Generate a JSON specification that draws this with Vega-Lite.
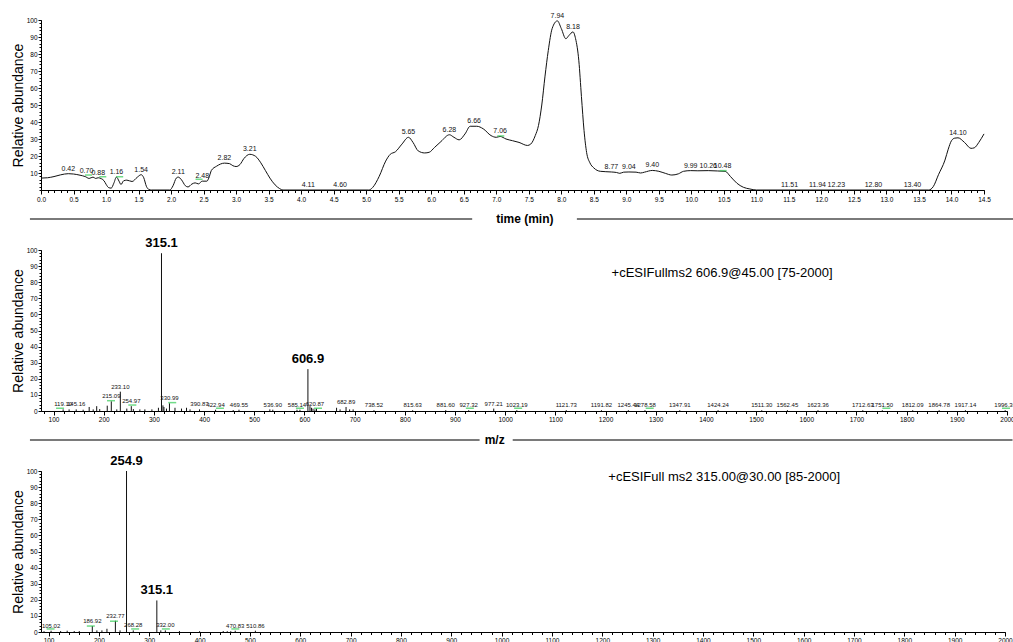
{
"$schema": "https://vega.github.io/schema/vega-lite/v6.json",
"background": "white",
"padding": {"top": 11, "left": 11, "right": 0, "bottom": 0},
"config": {"view": {"stroke": null}, "font": "Liberation Sans"},
"spacing": 60,
"bounds": "flush",
"datasets": {
"one": [{"k": 1}],
"chrom": [
{"t":0,"v":7},{"t":0.1,"v":7.2},{"t":0.2,"v":7.9},{"t":0.3,"v":8.9},{"t":0.42,"v":9.6},{"t":0.5,"v":9.4},{"t":0.6,"v":8.7},{"t":0.68,"v":7.9},{"t":0.74,"v":6.8},{"t":0.8,"v":7.6},{"t":0.84,"v":6.8},{"t":0.88,"v":7.2},{"t":0.93,"v":6.6},{"t":0.97,"v":5.4},{"t":1.0,"v":3.4},{"t":1.04,"v":1.4},{"t":1.08,"v":1.1},{"t":1.12,"v":4},{"t":1.16,"v":7.6},{"t":1.2,"v":5.2},{"t":1.23,"v":3.2},{"t":1.27,"v":5.4},{"t":1.32,"v":5.8},{"t":1.4,"v":5},{"t":1.48,"v":7.5},{"t":1.54,"v":9},{"t":1.58,"v":7.2},{"t":1.62,"v":2.2},{"t":1.66,"v":0.3},{"t":1.7,"v":0},{"t":1.98,"v":0},{"t":2.03,"v":2.5},{"t":2.08,"v":7},{"t":2.11,"v":7.6},{"t":2.16,"v":6},{"t":2.22,"v":2.5},{"t":2.26,"v":1.8},{"t":2.32,"v":3.5},{"t":2.37,"v":4.2},{"t":2.42,"v":3.6},{"t":2.48,"v":5.2},{"t":2.55,"v":5.2},{"t":2.58,"v":7},{"t":2.62,"v":11.5},{"t":2.7,"v":14},{"t":2.82,"v":15.8},{"t":2.9,"v":15.5},{"t":2.95,"v":14.3},{"t":3.0,"v":13.8},{"t":3.06,"v":15},{"t":3.12,"v":18.5},{"t":3.21,"v":21},{"t":3.3,"v":19.8},{"t":3.38,"v":16},{"t":3.45,"v":11.5},{"t":3.52,"v":7},{"t":3.6,"v":3},{"t":3.67,"v":0.8},{"t":3.72,"v":0},{"t":5.04,"v":0},{"t":5.1,"v":1.5},{"t":5.2,"v":8},{"t":5.3,"v":17},{"t":5.37,"v":21},{"t":5.45,"v":22.5},{"t":5.55,"v":27},{"t":5.65,"v":31},{"t":5.72,"v":28},{"t":5.8,"v":23},{"t":5.9,"v":21.8},{"t":5.97,"v":22.2},{"t":6.05,"v":25},{"t":6.15,"v":28.5},{"t":6.28,"v":32.5},{"t":6.35,"v":31},{"t":6.43,"v":29.5},{"t":6.52,"v":33},{"t":6.6,"v":37.5},{"t":6.7,"v":37.5},{"t":6.8,"v":36},{"t":6.92,"v":32},{"t":7.0,"v":31},{"t":7.06,"v":31.5},{"t":7.15,"v":30},{"t":7.25,"v":29},{"t":7.35,"v":28},{"t":7.48,"v":26.2},{"t":7.53,"v":27},{"t":7.6,"v":32},{"t":7.65,"v":38},{"t":7.7,"v":50},{"t":7.75,"v":67},{"t":7.8,"v":82},{"t":7.86,"v":95},{"t":7.94,"v":99.5},{"t":8.0,"v":95},{"t":8.07,"v":89},{"t":8.12,"v":91},{"t":8.18,"v":93},{"t":8.22,"v":89},{"t":8.27,"v":76},{"t":8.31,"v":55},{"t":8.35,"v":35},{"t":8.39,"v":22},{"t":8.44,"v":16},{"t":8.5,"v":13},{"t":8.6,"v":11},{"t":8.77,"v":10.6},{"t":8.85,"v":10.3},{"t":8.9,"v":9.8},{"t":8.96,"v":10.5},{"t":9.04,"v":10.6},{"t":9.15,"v":10.5},{"t":9.22,"v":10},{"t":9.28,"v":10.5},{"t":9.4,"v":11.5},{"t":9.5,"v":11},{"t":9.6,"v":9.8},{"t":9.7,"v":8.8},{"t":9.8,"v":9.5},{"t":9.88,"v":11},{"t":9.99,"v":11.4},{"t":10.1,"v":11.3},{"t":10.26,"v":11.4},{"t":10.4,"v":11.2},{"t":10.52,"v":11},{"t":10.6,"v":8},{"t":10.7,"v":4},{"t":10.8,"v":1.6},{"t":10.9,"v":0.6},{"t":11.0,"v":0},{"t":13.65,"v":0},{"t":13.72,"v":2},{"t":13.8,"v":9},{"t":13.9,"v":17.6},{"t":13.95,"v":24},{"t":14.0,"v":29},{"t":14.05,"v":30.5},{"t":14.1,"v":30.7},{"t":14.2,"v":28},{"t":14.3,"v":24.5},{"t":14.35,"v":24.8},{"t":14.42,"v":28},{"t":14.5,"v":33}
],
"chromLabels": [
{"t":0.42,"v":9.6,"label":"0.42"},{"t":0.70,"v":8,"label":"0.70"},{"t":0.88,"v":7.3,"label":"0.88"},{"t":1.16,"v":7.6,"label":"1.16"},{"t":1.54,"v":9,"label":"1.54"},{"t":2.11,"v":7.6,"label":"2.11"},{"t":2.48,"v":5.2,"label":"2.48"},{"t":2.82,"v":15.8,"label":"2.82"},{"t":3.21,"v":21,"label":"3.21"},{"t":4.11,"v":0,"label":"4.11"},{"t":4.60,"v":0,"label":"4.60"},{"t":5.65,"v":31,"label":"5.65"},{"t":6.28,"v":32.5,"label":"6.28"},{"t":6.66,"v":37.5,"label":"6.66"},{"t":7.06,"v":31.5,"label":"7.06"},{"t":7.94,"v":99.5,"label":"7.94"},{"t":8.18,"v":93,"label":"8.18"},{"t":8.77,"v":10.6,"label":"8.77"},{"t":9.04,"v":10.6,"label":"9.04"},{"t":9.40,"v":11.5,"label":"9.40"},{"t":9.99,"v":11.4,"label":"9.99"},{"t":10.26,"v":11.4,"label":"10.26"},{"t":10.48,"v":11,"label":"10.48"},{"t":11.51,"v":0,"label":"11.51"},{"t":11.94,"v":0,"label":"11.94"},{"t":12.23,"v":0,"label":"12.23"},{"t":12.80,"v":0,"label":"12.80"},{"t":13.40,"v":0,"label":"13.40"},{"t":14.10,"v":30.7,"label":"14.10"}
],
"chromGreen": [{"t":0.73,"v":8.8},{"t":0.95,"v":7.8},{"t":1.21,"v":7.8},{"t":2.43,"v":6.3},{"t":7.07,"v":31.8},{"t":10.49,"v":11.4}],
"ms1Peaks": [
{"mz":119.1,"v":1},{"mz":131,"v":1},{"mz":145.16,"v":1},{"mz":159,"v":0.8},{"mz":171,"v":2.5},{"mz":179,"v":1},{"mz":186,"v":3},{"mz":192,"v":1.2},{"mz":207,"v":3.3},{"mz":215.09,"v":6},{"mz":226,"v":1},{"mz":233.1,"v":12},{"mz":246,"v":1.5},{"mz":254.97,"v":3},{"mz":259,"v":1.2},{"mz":272,"v":1},{"mz":282,"v":1},{"mz":296,"v":1},{"mz":309,"v":2},{"mz":315.1,"v":98},{"mz":318,"v":3.5},{"mz":320,"v":2.5},{"mz":325,"v":1.5},{"mz":330.99,"v":4.8},{"mz":342,"v":2},{"mz":355,"v":1.5},{"mz":365,"v":2},{"mz":372,"v":1},{"mz":390.87,"v":1},{"mz":422.94,"v":0.8},{"mz":458,"v":0.6},{"mz":469.55,"v":0.8},{"mz":531,"v":1},{"mz":536.9,"v":0.8},{"mz":585.14,"v":0.8},{"mz":591,"v":0.8},{"mz":606.9,"v":26},{"mz":611,"v":3},{"mz":614,"v":2},{"mz":617,"v":1.5},{"mz":620.87,"v":1},{"mz":624,"v":1.5},{"mz":664,"v":2},{"mz":671,"v":1},{"mz":682.89,"v":2.5},{"mz":690,"v":1},{"mz":697,"v":1},{"mz":738.52,"v":0.5},{"mz":815.63,"v":0.5},{"mz":881.6,"v":0.5},{"mz":927.32,"v":0.5},{"mz":977.21,"v":1.5},{"mz":1023.19,"v":0.5},{"mz":1121.73,"v":0.5},{"mz":1191.82,"v":0.5},{"mz":1245.44,"v":0.5},{"mz":1278.58,"v":0.5},{"mz":1347.91,"v":0.5},{"mz":1424.24,"v":0.5},{"mz":1511.3,"v":0.5},{"mz":1562.45,"v":0.5},{"mz":1623.36,"v":0.5},{"mz":1712.63,"v":0.5},{"mz":1751.5,"v":0.5},{"mz":1812.09,"v":0.5},{"mz":1864.78,"v":0.5},{"mz":1917.14,"v":0.5},{"mz":1996.36,"v":0.5}
],
"ms1Labels": [
{"mz":119.1,"v":1,"label":"119.10"},{"mz":145.16,"v":1,"label":"145.16"},{"mz":215.09,"v":6,"label":"215.09"},{"mz":233.1,"v":12,"label":"233.10"},{"mz":254.97,"v":3,"label":"254.97"},{"mz":330.99,"v":4.8,"label":"330.99"},{"mz":390.87,"v":1,"label":"390.87"},{"mz":422.94,"v":0.8,"label":"422.94"},{"mz":469.55,"v":0.8,"label":"469.55"},{"mz":536.9,"v":0.8,"label":"536.90"},{"mz":585.14,"v":0.8,"label":"585.14"},{"mz":620.87,"v":1,"label":"620.87"},{"mz":682.89,"v":2.5,"label":"682.89"},{"mz":738.52,"v":0.5,"label":"738.52"},{"mz":815.63,"v":0.5,"label":"815.63"},{"mz":881.6,"v":0.5,"label":"881.60"},{"mz":927.32,"v":0.5,"label":"927.32"},{"mz":977.21,"v":1.5,"label":"977.21"},{"mz":1023.19,"v":0.5,"label":"1023.19"},{"mz":1121.73,"v":0.5,"label":"1121.73"},{"mz":1191.82,"v":0.5,"label":"1191.82"},{"mz":1245.44,"v":0.5,"label":"1245.44"},{"mz":1278.58,"v":0.5,"label":"1278.58"},{"mz":1347.91,"v":0.5,"label":"1347.91"},{"mz":1424.24,"v":0.5,"label":"1424.24"},{"mz":1511.3,"v":0.5,"label":"1511.30"},{"mz":1562.45,"v":0.5,"label":"1562.45"},{"mz":1623.36,"v":0.5,"label":"1623.36"},{"mz":1712.63,"v":0.5,"label":"1712.63"},{"mz":1751.5,"v":0.5,"label":"1751.50"},{"mz":1812.09,"v":0.5,"label":"1812.09"},{"mz":1864.78,"v":0.5,"label":"1864.78"},{"mz":1917.14,"v":0.5,"label":"1917.14"},{"mz":1996.36,"v":0.5,"label":"1996.36"}
],
"ms1Big": [{"mz":315.1,"v":98,"label":"315.1"},{"mz":606.9,"v":26,"label":"606.9"}],
"ms1Green": [{"mz":113,"v":1.7},{"mz":214.5,"v":6.4},{"mz":257,"v":3.7},{"mz":336.5,"v":5.2},{"mz":431.6,"v":1.7},{"mz":591,"v":1.7},{"mz":627,"v":1.7},{"mz":929.6,"v":1.7},{"mz":1025.8,"v":1.7},{"mz":1288,"v":1.7},{"mz":1759.6,"v":1.7},{"mz":1998,"v":1.7}],
"ms2Peaks": [
{"mz":91,"v":0.5},{"mz":105.02,"v":0.8},{"mz":124,"v":0.6},{"mz":137,"v":0.8},{"mz":151,"v":0.6},{"mz":161,"v":0.6},{"mz":186.92,"v":3.7},{"mz":196,"v":1},{"mz":206,"v":1},{"mz":216,"v":2},{"mz":232.77,"v":7},{"mz":242,"v":1},{"mz":254.9,"v":100},{"mz":268.28,"v":1},{"mz":315.1,"v":19.6},{"mz":323,"v":1},{"mz":332.0,"v":1},{"mz":360,"v":0.6},{"mz":400,"v":0.5},{"mz":447,"v":0.6},{"mz":455,"v":0.5},{"mz":462,"v":0.5},{"mz":470.83,"v":0.8},{"mz":510.86,"v":0.8}
],
"ms2Labels": [
{"mz":105.02,"v":0.8,"label":"105.02"},{"mz":186.92,"v":3.7,"label":"186.92"},{"mz":232.77,"v":7,"label":"232.77"},{"mz":268.28,"v":1,"label":"268.28"},{"mz":332.0,"v":1,"label":"332.00"},{"mz":470.83,"v":0.8,"label":"470.83"},{"mz":510.86,"v":0.8,"label":"510.86"}
],
"ms2Big": [{"mz":254.9,"v":100,"label":"254.9"},{"mz":315.1,"v":19.6,"label":"315.1"}],
"ms2Green": [{"mz":104,"v":1.9},{"mz":184,"v":3.7},{"mz":230,"v":6.7},{"mz":272,"v":1.9},{"mz":333,"v":1.9},{"mz":471,"v":1.9}],
"notes": [{"panel":"ms1","text":"+cESIFullms2 606.9@45.00 [75-2000]"},{"panel":"ms2","text":"+cESIFull ms2 315.00@30.00 [85-2000]"}]
},
"vconcat": [
{
"width": 943, "height": 170,
"resolve": {"axis": {"x": "independent", "y": "independent"}},
"layer": [
{"data": {"name": "chrom"}, "mark": {"type": "line", "color": "#111", "strokeWidth": 1, "interpolate": "monotone"},
 "encoding": {
  "x": {"field": "t", "type": "quantitative", "scale": {"domain": [0, 14.5], "nice": false, "zero": false},
   "axis": {"orient": "bottom", "values": [0,0.5,1,1.5,2,2.5,3,3.5,4,4.5,5,5.5,6,6.5,7,7.5,8,8.5,9,9.5,10,10.5,11,11.5,12,12.5,13,13.5,14,14.5], "format": ".1f", "title": null, "grid": false, "tickSize": 4, "tickColor": "#000", "domainColor": "#000", "labelFont": "Liberation Sans", "labelFontSize": 6.5, "labelColor": "#000", "labelPadding": 2, "labelFlush": false, "labelOverlap": false}},
  "y": {"field": "v", "type": "quantitative", "scale": {"domain": [0, 100], "nice": false},
   "axis": {"orient": "left", "values": [10,20,30,40,50,60,70,80,90,100], "title": "Relative abundance", "titleFont": "Liberation Sans", "titleFontSize": 14, "titleFontWeight": "normal", "titleColor": "#000", "titlePadding": 1, "grid": false, "tickSize": 3, "tickColor": "#000", "domainColor": "#000", "labelFont": "Liberation Sans", "labelFontSize": 6.5, "labelColor": "#000", "labelPadding": 1, "labelOverlap": false}}
 }},
{"data": {"name": "chromGreen"}, "mark": {"type": "tick", "orient": "horizontal", "color": "#33cc55", "size": 7, "thickness": 1.5},
 "encoding": {
  "x": {"field": "t", "type": "quantitative", "axis": {"orient": "bottom", "tickCount": 145, "labels": false, "domain": false, "title": null, "grid": false, "tickSize": 2.5, "tickColor": "#000"}},
  "y": {"field": "v", "type": "quantitative", "axis": {"orient": "left", "tickCount": 50, "labels": false, "domain": false, "title": null, "grid": false, "tickSize": 2, "tickColor": "#000"}}
 }},
{"data": {"name": "chromLabels"}, "mark": {"type": "text", "font": "Liberation Sans Narrow, Liberation Sans", "fontSize": 7, "color": "#111", "baseline": "bottom", "dy": -2},
 "encoding": {
  "x": {"field": "t", "type": "quantitative", "axis": null},
  "y": {"field": "v", "type": "quantitative", "axis": null},
  "text": {"field": "label"}
 }},
{"data": {"name": "one"}, "mark": {"type": "rule", "color": "#7a7a7a", "strokeWidth": 2, "clip": false},
 "encoding": {"x": {"datum": -0.17, "type": "quantitative", "axis": null}, "x2": {"datum": 6.63}, "y": {"datum": -17, "type": "quantitative", "axis": null}}},
{"data": {"name": "one"}, "mark": {"type": "rule", "color": "#7a7a7a", "strokeWidth": 2, "clip": false},
 "encoding": {"x": {"datum": 8.24, "type": "quantitative", "axis": null}, "x2": {"datum": 14.95}, "y": {"datum": -17, "type": "quantitative", "axis": null}}},
{"data": {"name": "one"}, "mark": {"type": "text", "text": "time (min)", "font": "Liberation Sans", "fontSize": 12, "fontWeight": "bold", "color": "#000", "align": "center", "baseline": "middle"},
 "encoding": {"x": {"datum": 7.44, "type": "quantitative", "axis": null}, "y": {"datum": -17, "type": "quantitative", "axis": null}}}
]
},
{
"width": 966, "height": 161,
"resolve": {"axis": {"x": "independent", "y": "independent"}},
"layer": [
{"data": {"name": "ms1Peaks"}, "mark": {"type": "rule", "color": "#111", "strokeWidth": 1},
 "encoding": {
  "x": {"field": "mz", "type": "quantitative", "scale": {"domain": [75, 2000], "nice": false, "zero": false},
   "axis": {"orient": "bottom", "values": [100,200,300,400,500,600,700,800,900,1000,1100,1200,1300,1400,1500,1600,1700,1800,1900,2000], "format": "d", "title": null, "grid": false, "tickSize": 4, "tickColor": "#000", "domainColor": "#000", "labelFont": "Liberation Sans", "labelFontSize": 6.5, "labelColor": "#000", "labelPadding": 1, "labelFlush": false, "labelOverlap": false}},
  "y": {"field": "v", "type": "quantitative", "scale": {"domain": [0, 100], "nice": false},
   "axis": {"orient": "left", "values": [0,10,20,30,40,50,60,70,80,90,100], "title": "Relative abundance", "titleFont": "Liberation Sans", "titleFontSize": 14, "titleFontWeight": "normal", "titleColor": "#000", "titlePadding": 1, "grid": false, "tickSize": 3, "tickColor": "#000", "domainColor": "#000", "labelFont": "Liberation Sans", "labelFontSize": 6.5, "labelColor": "#000", "labelPadding": 1, "labelOverlap": false}},
  "y2": {"datum": 0}
 }},
{"data": {"name": "ms1Green"}, "mark": {"type": "tick", "orient": "horizontal", "color": "#33cc55", "size": 8, "thickness": 1.5},
 "encoding": {
  "x": {"field": "mz", "type": "quantitative", "axis": {"orient": "bottom", "tickCount": 96, "labels": false, "domain": false, "title": null, "grid": false, "tickSize": 2.5, "tickColor": "#000"}},
  "y": {"field": "v", "type": "quantitative", "axis": {"orient": "left", "tickCount": 50, "labels": false, "domain": false, "title": null, "grid": false, "tickSize": 2, "tickColor": "#000"}}
 }},
{"data": {"name": "ms1Labels"}, "mark": {"type": "text", "font": "Liberation Sans Narrow, Liberation Sans", "fontSize": 6, "color": "#111", "baseline": "bottom", "dy": -2},
 "encoding": {
  "x": {"field": "mz", "type": "quantitative", "axis": null},
  "y": {"field": "v", "type": "quantitative", "axis": null},
  "text": {"field": "label"}
 }},
{"data": {"name": "ms1Big"}, "mark": {"type": "text", "font": "Liberation Sans", "fontSize": 13, "fontWeight": "bold", "color": "#000", "baseline": "bottom", "dy": -3},
 "encoding": {
  "x": {"field": "mz", "type": "quantitative", "axis": null},
  "y": {"field": "v", "type": "quantitative", "axis": null},
  "text": {"field": "label"}
 }},
{"data": {"name": "notes"}, "transform": [{"filter": "datum.panel === 'ms1'"}], "mark": {"type": "text", "font": "Liberation Sans", "fontSize": 13, "color": "#000", "align": "left", "baseline": "middle"},
 "encoding": {"x": {"datum": 1212, "type": "quantitative", "axis": null}, "y": {"datum": 86, "type": "quantitative", "axis": null}, "text": {"field": "text"}}},
{"data": {"name": "one"}, "mark": {"type": "rule", "color": "#7a7a7a", "strokeWidth": 2, "clip": false},
 "encoding": {"x": {"datum": 53, "type": "quantitative", "axis": null}, "x2": {"datum": 949}, "y": {"datum": -18, "type": "quantitative", "axis": null}}},
{"data": {"name": "one"}, "mark": {"type": "rule", "color": "#7a7a7a", "strokeWidth": 2, "clip": false},
 "encoding": {"x": {"datum": 1015, "type": "quantitative", "axis": null}, "x2": {"datum": 2011}, "y": {"datum": -18, "type": "quantitative", "axis": null}}},
{"data": {"name": "one"}, "mark": {"type": "text", "text": "m/z", "font": "Liberation Sans", "fontSize": 12, "fontWeight": "bold", "color": "#000", "align": "center", "baseline": "middle"},
 "encoding": {"x": {"datum": 979, "type": "quantitative", "axis": null}, "y": {"datum": -18, "type": "quantitative", "axis": null}}}
]
},
{
"width": 964, "height": 161,
"resolve": {"axis": {"x": "independent", "y": "independent"}},
"layer": [
{"data": {"name": "ms2Peaks"}, "mark": {"type": "rule", "color": "#111", "strokeWidth": 1},
 "encoding": {
  "x": {"field": "mz", "type": "quantitative", "scale": {"domain": [85, 2000], "nice": false, "zero": false},
   "axis": {"orient": "bottom", "values": [100,200,300,400,500,600,700,800,900,1000,1100,1200,1300,1400,1500,1600,1700,1800,1900,2000], "format": "d", "title": null, "grid": false, "tickSize": 4, "tickColor": "#000", "domainColor": "#000", "labelFont": "Liberation Sans", "labelFontSize": 6.5, "labelColor": "#000", "labelPadding": 1, "labelFlush": false, "labelOverlap": false}},
  "y": {"field": "v", "type": "quantitative", "scale": {"domain": [0, 100], "nice": false},
   "axis": {"orient": "left", "values": [0,10,20,30,40,50,60,70,80,90,100], "title": "Relative abundance", "titleFont": "Liberation Sans", "titleFontSize": 14, "titleFontWeight": "normal", "titleColor": "#000", "titlePadding": 1, "grid": false, "tickSize": 3, "tickColor": "#000", "domainColor": "#000", "labelFont": "Liberation Sans", "labelFontSize": 6.5, "labelColor": "#000", "labelPadding": 1, "labelOverlap": false}},
  "y2": {"datum": 0}
 }},
{"data": {"name": "ms2Green"}, "mark": {"type": "tick", "orient": "horizontal", "color": "#33cc55", "size": 8, "thickness": 1.5},
 "encoding": {
  "x": {"field": "mz", "type": "quantitative", "axis": {"orient": "bottom", "tickCount": 96, "labels": false, "domain": false, "title": null, "grid": false, "tickSize": 2.5, "tickColor": "#000"}},
  "y": {"field": "v", "type": "quantitative", "axis": {"orient": "left", "tickCount": 50, "labels": false, "domain": false, "title": null, "grid": false, "tickSize": 2, "tickColor": "#000"}}
 }},
{"data": {"name": "ms2Labels"}, "mark": {"type": "text", "font": "Liberation Sans Narrow, Liberation Sans", "fontSize": 6, "color": "#111", "baseline": "bottom", "dy": -2},
 "encoding": {
  "x": {"field": "mz", "type": "quantitative", "axis": null},
  "y": {"field": "v", "type": "quantitative", "axis": null},
  "text": {"field": "label"}
 }},
{"data": {"name": "ms2Big"}, "mark": {"type": "text", "font": "Liberation Sans", "fontSize": 13, "fontWeight": "bold", "color": "#000", "baseline": "bottom", "dy": -3},
 "encoding": {
  "x": {"field": "mz", "type": "quantitative", "axis": null},
  "y": {"field": "v", "type": "quantitative", "axis": null},
  "text": {"field": "label"}
 }},
{"data": {"name": "notes"}, "transform": [{"filter": "datum.panel === 'ms2'"}], "mark": {"type": "text", "font": "Liberation Sans", "fontSize": 13, "color": "#000", "align": "left", "baseline": "middle"},
 "encoding": {"x": {"datum": 1212, "type": "quantitative", "axis": null}, "y": {"datum": 96, "type": "quantitative", "axis": null}, "text": {"field": "text"}}}
]
}
]
}
